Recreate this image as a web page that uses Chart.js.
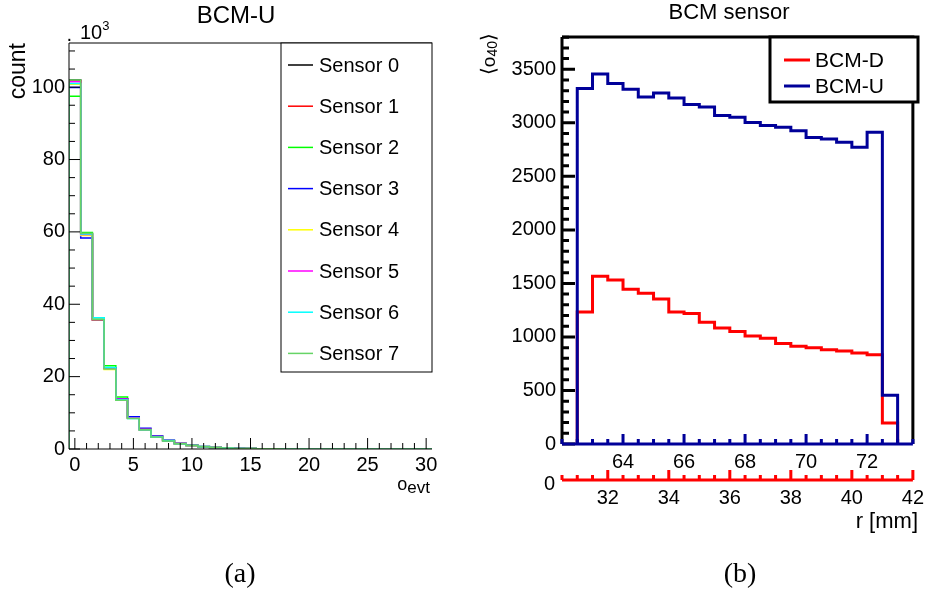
<!DOCTYPE html>
<html>
<head>
<meta charset="utf-8">
<title>BCM occupancy</title>
<script src="https://cdn.jsdelivr.net/npm/chart.js@4.4.1/dist/chart.umd.min.js"></script>
<style>
    html, body { margin: 0; padding: 0; background: #fff; }
    #page { position: relative; width: 930px; height: 591px; overflow: hidden; }
    #page canvas { position: absolute; top: 0; }
    #leftChart { left: 0; }
    #rightChart { left: 465px; }
</style>
</head>
<body>
<div id="page">
    <canvas id="leftChart" width="465" height="591"></canvas>
    <canvas id="rightChart" width="465" height="591"></canvas>
</div>
<script>
// (a) occupancy per event, BCM-U sensors -- bin centres and counts
const occBins = [0, 1, 2, 3, 4, 5, 6, 7, 8, 9, 10, 11, 12, 13, 14, 15, 16, 17, 18, 19, 20, 21, 22, 23, 24, 25, 26, 27, 28, 29, 30];
const sensorNames = ['Sensor 0', 'Sensor 1', 'Sensor 2', 'Sensor 3', 'Sensor 4', 'Sensor 5', 'Sensor 6', 'Sensor 7'];
const sensor0 = [102000, 59400, 35800, 22300, 13800, 8600, 5400, 3400, 2300, 1500, 1000, 650, 420, 270, 170, 110, 70, 45, 30, 20, 13, 8, 5, 3, 2, 1, 1, 0, 0, 0, 0];
const sensor1 = [101700, 59500, 35600, 22200, 13700, 8500, 5300, 3400, 2200, 1450, 980, 640, 410, 260, 170, 110, 70, 45, 30, 19, 12, 8, 5, 3, 2, 1, 1, 0, 0, 0, 0];
const sensor2 = [97500, 59800, 36200, 23000, 14400, 8700, 5400, 3500, 2350, 1550, 1020, 660, 430, 280, 180, 115, 72, 47, 31, 20, 13, 8, 5, 3, 2, 1, 1, 0, 0, 0, 0];
const sensor3 = [99900, 58300, 36000, 22400, 13900, 8900, 5700, 3600, 2400, 1550, 1040, 670, 440, 280, 180, 115, 75, 48, 31, 20, 13, 8, 5, 3, 2, 1, 0, 0, 0, 0, 0];
const sensor4 = [100800, 59000, 35900, 22000, 13600, 8500, 5400, 3400, 2250, 1480, 990, 640, 410, 265, 170, 108, 70, 44, 29, 19, 12, 8, 5, 3, 2, 1, 1, 0, 0, 0, 0];
const sensor5 = [101500, 59300, 35700, 22300, 13800, 8600, 5400, 3450, 2300, 1500, 1000, 650, 420, 270, 172, 110, 70, 45, 30, 20, 13, 8, 5, 3, 2, 1, 1, 0, 0, 0, 0];
const sensor6 = [101000, 59400, 36300, 22500, 13600, 8400, 5300, 3350, 2250, 1470, 980, 630, 410, 260, 165, 105, 68, 44, 29, 19, 12, 8, 5, 3, 2, 1, 0, 0, 0, 0, 0];
const sensor7 = [102000, 59600, 35700, 22100, 13500, 8400, 5300, 3300, 2200, 1450, 960, 620, 400, 255, 162, 104, 66, 43, 28, 18, 12, 7, 5, 3, 2, 1, 0, 0, 0, 0, 0];
const occTickLabels = [0, 5, 10, 15, 20, 25, 30];
const countTickLabels = [0, 20, 40, 60, 80, 100]; // x 10^3

// (b) mean occupancy vs radius -- bin low edges (upper / lower scale) and means
const rLowU = [62.5, 63, 63.5, 64, 64.5, 65, 65.5, 66, 66.5, 67, 67.5, 68, 68.5, 69, 69.5, 70, 70.5, 71, 71.5, 72, 72.5];
const rLowD = [31, 31.5, 32, 32.5, 33, 33.5, 34, 34.5, 35, 35.5, 36, 36.5, 37, 37.5, 38, 38.5, 39, 39.5, 40, 40.5, 41];
const meanU = [3321, 3456, 3368, 3314, 3242, 3279, 3232, 3170, 3147, 3069, 3053, 3003, 2975, 2958, 2927, 2864, 2849, 2818, 2771, 2912, 455];
const meanD = [1234, 1568, 1531, 1446, 1409, 1354, 1234, 1218, 1138, 1083, 1050, 1009, 988, 939, 912, 899, 880, 868, 850, 834, 195];
const rTicksU = [64, 66, 68, 70, 72];
const rTicksD = [32, 34, 36, 38, 40, 42];
const meanTickLabels = [0, 500, 1000, 1500, 2000, 2500, 3000, 3500];

const FONT = '"Liberation Sans", Arial, sans-serif';
const SERIF = '"Liberation Serif", "DejaVu Serif", serif';
const sensorColors = ['#000000', '#ff0000', '#00ff00', '#0000ff', '#ffff00', '#ff00ff', '#00ffff', '#66d466'];

// histogram outline as points for a stepped line
function histPoints(lowEdges, width, values) {
    const pts = [{ x: lowEdges[0], y: 0 }];
    values.forEach((v, i) => pts.push({ x: lowEdges[i], y: v }));
    pts.push({ x: lowEdges[lowEdges.length - 1] + width, y: 0 });
    return pts;
}

// major + minor tick list, "long" marks the labelled ones
function makeTicks(min, max, step, longValues) {
    const out = [];
    for (let k = 0; min + k * step <= max + 1e-9; k++) {
        const v = +(min + k * step).toFixed(6);
        out.push({ value: v, long: longValues.includes(v) });
    }
    return out;
}

function drawRich(ctx, item) {
    ctx.save();
    ctx.translate(item.x, item.y);
    if (item.rotate) ctx.rotate(item.rotate);
    const fontOf = p => p.size + 'px ' + (p.family || FONT);
    let total = 0;
    item.parts.forEach(p => { ctx.font = fontOf(p); total += ctx.measureText(p.t).width; });
    let x = item.align === 'right' ? -total : item.align === 'center' ? -total / 2 : 0;
    ctx.textAlign = 'left';
    ctx.textBaseline = 'alphabetic';
    ctx.fillStyle = item.color || '#000';
    item.parts.forEach(p => {
        ctx.font = fontOf(p);
        ctx.fillText(p.t, x, p.dy || 0);
        x += ctx.measureText(p.t).width;
    });
    ctx.restore();
}

// ROOT-like frame: inward ticks, boxed legend, extra texts
const rootFrame = {
    id: 'rootFrame',
    afterDraw(chart, args, opts) {
        const ctx = chart.ctx;
        const area = chart.chartArea;
        ctx.save();
        ctx.lineCap = 'butt';

        if (opts.frame) {
            ctx.strokeStyle = opts.frame.color;
            ctx.lineWidth = opts.frame.width;
            ctx.beginPath();
            ctx.moveTo(area.left, area.top);
            ctx.lineTo(area.right, area.top);
            if (opts.frame.right) ctx.lineTo(area.right, area.bottom);
            ctx.stroke();
        }

        (opts.axes || []).forEach(a => {
            const scale = chart.scales[a.id];
            ctx.strokeStyle = a.color;
            ctx.lineWidth = a.width;
            ctx.beginPath();
            if (scale.isHorizontal()) {
                const y0 = scale.top;
                ctx.moveTo(area.left, y0);
                ctx.lineTo(area.right, y0);
                scale.ticks.forEach(t => {
                    const p = scale.getPixelForValue(t.value);
                    ctx.moveTo(p, y0);
                    ctx.lineTo(p, y0 - (t.long ? a.major : a.minor));
                });
            } else {
                const x0 = scale.right;
                ctx.moveTo(x0, area.top);
                ctx.lineTo(x0, area.bottom);
                scale.ticks.forEach(t => {
                    const p = scale.getPixelForValue(t.value);
                    ctx.moveTo(x0, p);
                    ctx.lineTo(x0 + (t.long ? a.major : a.minor), p);
                });
            }
            ctx.stroke();
        });

        const lg = opts.legend;
        if (lg) {
            ctx.fillStyle = '#fff';
            ctx.fillRect(lg.left, lg.top, lg.right - lg.left, lg.bottom - lg.top);
            ctx.strokeStyle = '#000';
            ctx.lineWidth = lg.border;
            ctx.strokeRect(lg.left, lg.top, lg.right - lg.left, lg.bottom - lg.top);
            chart.data.datasets.forEach((ds, i) => {
                const y = lg.y0 + i * lg.dy;
                ctx.strokeStyle = ds.borderColor;
                ctx.lineWidth = ds.borderWidth;
                ctx.beginPath();
                ctx.moveTo(lg.s0, y);
                ctx.lineTo(lg.s1, y);
                ctx.stroke();
                ctx.fillStyle = '#000';
                ctx.font = lg.size + 'px ' + FONT;
                ctx.textAlign = 'left';
                ctx.textBaseline = 'middle';
                ctx.fillText(ds.label, lg.tx, y + 1);
            });
        }

        (opts.texts || []).forEach(t => drawRich(ctx, t));
        ctx.restore();
    }
};

function tickFont() {
    return { family: FONT, size: 20 };
}

function buildLeftChart() {
    const sensors = [sensor0, sensor1, sensor2, sensor3, sensor4, sensor5, sensor6, sensor7];
    const lowEdges = occBins.map(b => b - 0.5);
    const yMax = 1.1 * Math.max(...sensors.map(s => Math.max(...s)));

    new Chart(document.getElementById('leftChart'), {
        type: 'line',
        data: {
            datasets: sensors.map((s, i) => ({
                label: sensorNames[i],
                data: histPoints(lowEdges, 1, s),
                borderColor: sensorColors[i],
                borderWidth: 1.5,
                stepped: 'before',
                pointRadius: 0,
                fill: false,
                order: sensors.length - i
            }))
        },
        options: {
            responsive: false,
            animation: false,
            devicePixelRatio: 1,
            events: [],
            layout: { padding: { left: 0, top: 43, right: 33, bottom: 0 } },
            scales: {
                x: {
                    type: 'linear', min: -0.5, max: 30.5,
                    afterBuildTicks: s => { s.ticks = makeTicks(0, s.max, 1, occTickLabels); },
                    afterFit: s => { s.height = 142; },
                    grid: { display: false, drawTicks: false },
                    border: { display: false },
                    ticks: {
                        autoSkip: false, maxRotation: 0, minRotation: 0, padding: 4,
                        color: '#000', font: tickFont(),
                        callback: v => occTickLabels.includes(v) ? String(v) : ''
                    }
                },
                y: {
                    type: 'linear', min: 0, max: yMax,
                    afterBuildTicks: s => { s.ticks = makeTicks(0, s.max, 5000, countTickLabels.map(v => v * 1000)); },
                    afterFit: s => { s.width = 69; },
                    grid: { display: false, drawTicks: false },
                    border: { display: false },
                    ticks: {
                        autoSkip: false, padding: 4, color: '#000', font: tickFont(),
                        callback: v => countTickLabels.includes(v / 1000) ? String(v / 1000) : ''
                    }
                }
            },
            plugins: {
                legend: { display: false },
                tooltip: { enabled: false },
                rootFrame: {
                    frame: { color: '#000', width: 1, right: false },
                    axes: [
                        { id: 'x', color: '#000', width: 1, major: 11, minor: 6 },
                        { id: 'y', color: '#000', width: 1, major: 11, minor: 6 }
                    ],
                    legend: { left: 281, top: 43, right: 432, bottom: 372, border: 1, y0: 65, dy: 41.2, s0: 288, s1: 313, tx: 319, size: 20 },
                    texts: [
                        { x: 236, y: 22.5, align: 'center', parts: [{ t: 'BCM-U', size: 24 }] },
                        { x: 66, y: 39, parts: [{ t: '·', size: 20, dy: 6 }] },
                        { x: 80, y: 39, parts: [{ t: '10', size: 20 }, { t: '3', size: 13, dy: -9 }] },
                        { x: 25, y: 43, rotate: -Math.PI / 2, align: 'right', parts: [{ t: 'count', size: 23 }] },
                        { x: 430, y: 490, align: 'right', parts: [{ t: 'o', size: 18 }, { t: 'evt', size: 17, dy: 3 }] },
                        { x: 240, y: 582, align: 'center', parts: [{ t: '(a)', size: 28, family: SERIF }] }
                    ]
                }
            }
        },
        plugins: [rootFrame]
    });
}

function buildRightChart() {
    const yMax = 1.1 * Math.max(...meanU, ...meanD);

    new Chart(document.getElementById('rightChart'), {
        type: 'line',
        data: {
            datasets: [
                {
                    label: 'BCM-D', data: histPoints(rLowD, 0.5, meanD), xAxisID: 'x2', yAxisID: 'y',
                    borderColor: '#ff0000', borderWidth: 3, stepped: 'before', pointRadius: 0, fill: false, order: 2
                },
                {
                    label: 'BCM-U', data: histPoints(rLowU, 0.5, meanU), xAxisID: 'x', yAxisID: 'y',
                    borderColor: '#000099', borderWidth: 3, stepped: 'before', pointRadius: 0, fill: false, order: 1
                }
            ]
        },
        options: {
            responsive: false,
            animation: false,
            devicePixelRatio: 1,
            events: [],
            layout: { padding: { left: 0, top: 37, right: 12, bottom: 0 } },
            scales: {
                x: {
                    type: 'linear', position: 'bottom', weight: 0, min: 62, max: 73.5,
                    afterBuildTicks: s => { s.ticks = makeTicks(s.min, s.max, 0.5, rTicksU); },
                    afterFit: s => { s.height = 36; },
                    grid: { display: false, drawTicks: false },
                    border: { display: false },
                    ticks: {
                        autoSkip: false, maxRotation: 0, minRotation: 0, padding: 6,
                        color: '#000', font: tickFont(),
                        callback: v => rTicksU.includes(v) ? String(v) : ''
                    }
                },
                x2: {
                    type: 'linear', position: 'bottom', weight: 1, min: 30.5, max: 42,
                    afterBuildTicks: s => { s.ticks = makeTicks(s.min, s.max, 0.5, rTicksD); },
                    afterFit: s => { s.height = 111; },
                    grid: { display: false, drawTicks: false },
                    border: { display: false },
                    ticks: {
                        autoSkip: false, maxRotation: 0, minRotation: 0, padding: 6,
                        color: '#000', font: tickFont(),
                        callback: v => rTicksD.includes(v) ? String(v) : ''
                    }
                },
                y: {
                    type: 'linear', min: 0, max: yMax,
                    afterBuildTicks: s => { s.ticks = makeTicks(0, s.max, 100, meanTickLabels); },
                    afterFit: s => { s.width = 97; },
                    grid: { display: false, drawTicks: false },
                    border: { display: false },
                    ticks: {
                        autoSkip: false, padding: 6, color: '#000', font: tickFont(),
                        callback: v => meanTickLabels.includes(v) ? String(v) : ''
                    }
                }
            },
            plugins: {
                legend: { display: false },
                tooltip: { enabled: false },
                rootFrame: {
                    frame: { color: '#000', width: 3, right: true },
                    axes: [
                        { id: 'y', color: '#000', width: 3, major: 13, minor: 7 },
                        { id: 'x', color: '#000099', width: 3, major: 10, minor: 5 },
                        { id: 'x2', color: '#ff0000', width: 3, major: 10, minor: 5 }
                    ],
                    legend: { left: 305, top: 37, right: 453, bottom: 102, border: 3, y0: 60, dy: 26, s0: 319, s1: 345, tx: 350, size: 21 },
                    texts: [
                        { x: 264, y: 18.5, align: 'center', parts: [{ t: 'BCM sensor', size: 22 }] },
                        { x: 30, y: 33, rotate: -Math.PI / 2, align: 'right', parts: [
                            { t: '⟨', size: 20 }, { t: 'o', size: 19 }, { t: '40', size: 14, dy: 2 }, { t: '⟩', size: 20 }
                        ] },
                        { x: 90, y: 489.5, align: 'right', parts: [{ t: '0', size: 20 }] },
                        { x: 453, y: 528, align: 'right', parts: [{ t: 'r [mm]', size: 22 }] },
                        { x: 275, y: 582, align: 'center', parts: [{ t: '(b)', size: 28, family: SERIF }] }
                    ]
                }
            }
        },
        plugins: [rootFrame]
    });
}

window.onload = () => {
    buildLeftChart();
    buildRightChart();
};
</script>
</body>
</html>
